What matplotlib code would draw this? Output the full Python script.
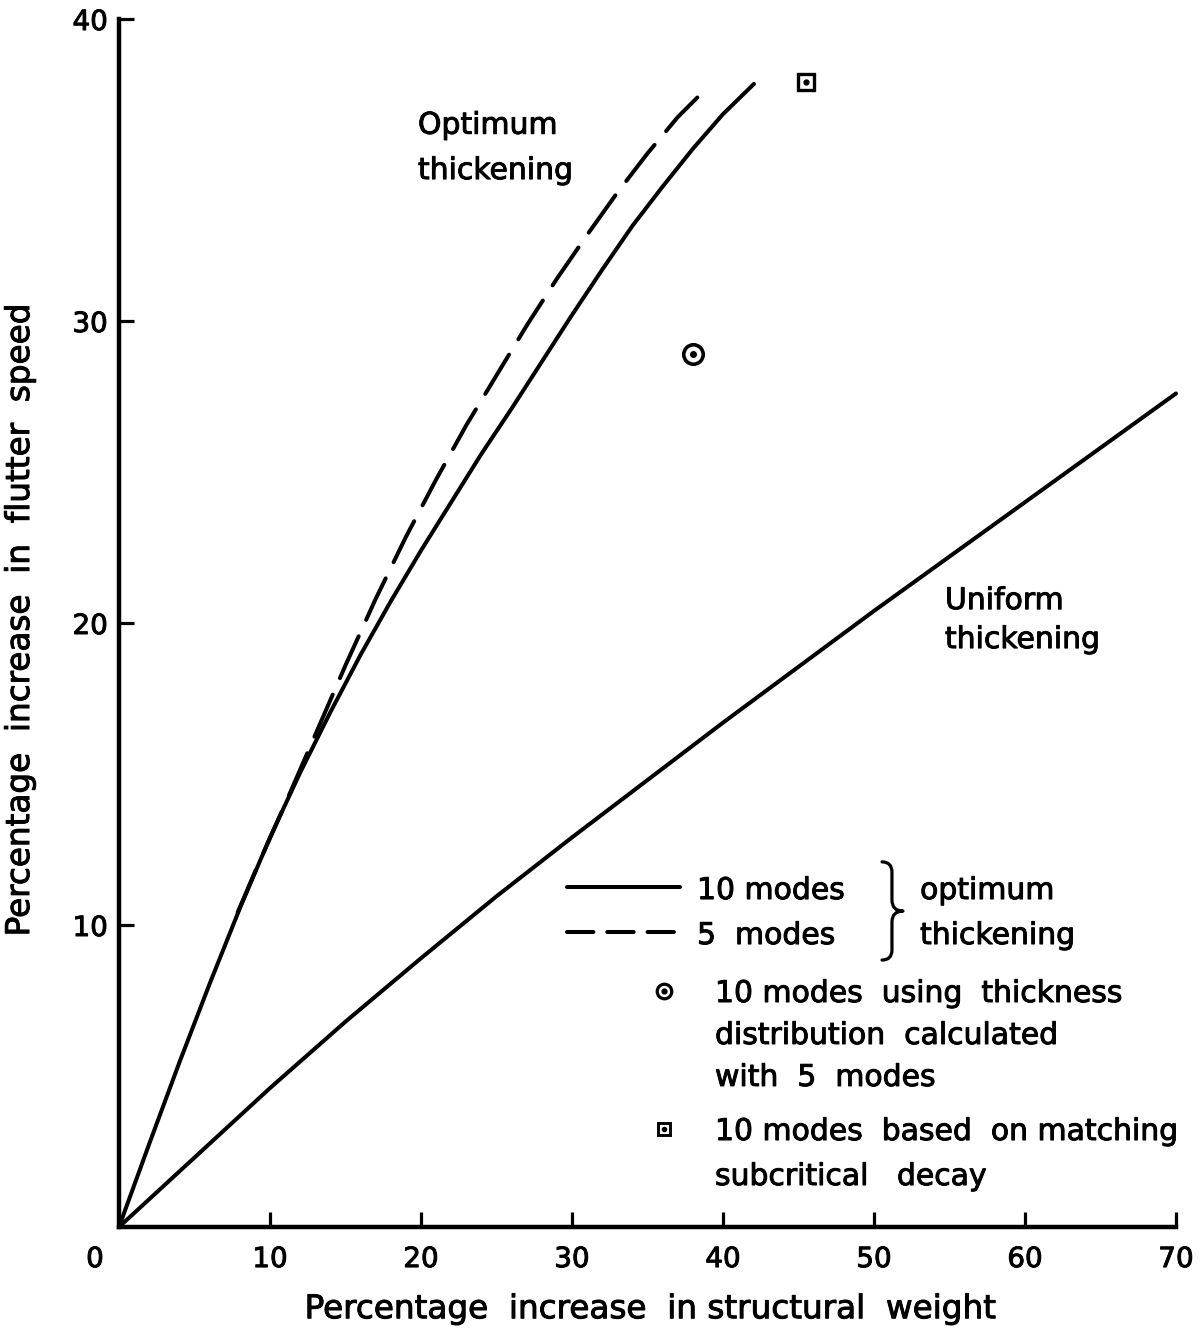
import matplotlib
matplotlib.use("Agg")
import matplotlib.pyplot as plt
import matplotlib.patheffects as pe
from matplotlib.path import Path
from matplotlib.patches import PathPatch
from matplotlib.transforms import ScaledTranslation

plt.rcParams['font.family'] = ['DejaVu Sans']
plt.rcParams['lines.scale_dashes'] = False

# ---------------- data ----------------
# Optimum thickening, 10 modes (solid)
x_opt10 = [0, 2, 4, 6, 8, 10, 12, 14, 16, 18, 20, 22, 24, 26, 28, 30, 32, 34, 36, 38, 40, 42.05]
y_opt10 = [0, 2.75, 5.45, 8.05, 10.55, 12.9, 15.05, 17.05, 18.95, 20.72, 22.4, 24.0, 25.6,
           27.1, 28.65, 30.2, 31.7, 33.15, 34.45, 35.7, 36.85, 37.85]
# Optimum thickening, 5 modes (dashed)
x_opt5 = [7.5, 9, 11, 13, 15, 17, 19, 21, 23, 25, 27, 29, 31, 33, 35, 37, 38.3]
y_opt5 = [10.0, 11.75, 14.0, 16.3, 18.6, 20.8, 22.85, 24.75, 26.55, 28.2, 29.85, 31.4,
          32.85, 34.25, 35.55, 36.75, 37.4]
# Uniform thickening
x_uni = [0, 5, 10, 15, 20, 25, 30, 35, 40, 45, 50, 55, 60, 65, 70]
y_uni = [0, 2.3, 4.6, 6.8, 8.9, 10.95, 12.9, 14.8, 16.7, 18.55, 20.4, 22.2, 24.0, 25.8, 27.6]
# Single points
circle_pt = (38.0, 28.9)   # 10 modes using thickness distribution calculated with 5 modes
square_pt = (45.5, 37.9)   # 10 modes based on matching subcritical decay

x_ticks = [0, 10, 20, 30, 40, 50, 60, 70]
x_ticklabels = ['0', '10', '20', '30', '40', '50', '60', '70']
y_ticks = [10, 20, 30, 40]
y_ticklabels = ['10', '20', '30', '40']

# ---------------- figure ----------------
W, H = 1203, 1337
fig = plt.figure(figsize=(W / 100, H / 100), dpi=100)
ax = fig.add_axes([119 / W, 1 - 1227 / H, 1057 / W, 1208 / H])
ax.set_xlim(0, 70)
ax.set_ylim(0, 40)

LW = 2.9
ax.plot(x_opt10, y_opt10, color='black', lw=LW, solid_capstyle='round',
        solid_joinstyle='round', clip_on=False)
# dashed curve drawn from its upper end so the pattern starts with a full dash there
ax.plot(x_opt5[::-1], y_opt5[::-1], color='black', lw=LW, dashes=(33, 13), dash_capstyle='round',
        dash_joinstyle='round', clip_on=False)
ax.plot(x_uni, y_uni, color='black', lw=LW, solid_capstyle='round',
        solid_joinstyle='round', clip_on=False)

# circle-with-dot point
ax.plot([circle_pt[0]], [circle_pt[1]], marker='o', ms=14, mfc='white', mec='black', mew=2.6, ls='none')
ax.plot([circle_pt[0]], [circle_pt[1]], marker='o', ms=4, color='black', ls='none')
# square-with-dot point
ax.plot([square_pt[0]], [square_pt[1]], marker='s', ms=11, mfc='white', mec='black', mew=2.4,
        ls='none', clip_on=False)
ax.plot([square_pt[0]], [square_pt[1]], marker='o', ms=3.5, color='black', ls='none', clip_on=False)

# ---------------- axes styling ----------------
for s in ['top', 'right']:
    ax.spines[s].set_visible(False)
for s in ['left', 'bottom']:
    ax.spines[s].set_linewidth(3.2)

ax.set_xticks(x_ticks)
ax.set_xticklabels(x_ticklabels)
ax.set_yticks(y_ticks)
ax.set_yticklabels(y_ticklabels)
ax.tick_params(axis='both', direction='in', length=11, width=2.3, labelsize=20)
ax.tick_params(axis='x', pad=13)
ax.tick_params(axis='y', pad=8)
# the '0' label sits left of the origin
lab0 = ax.get_xticklabels()[0]
lab0.set_transform(lab0.get_transform() + ScaledTranslation(-0.24, 0, fig.dpi_scale_trans))

ax.set_xlabel('Percentage  increase  in structural  weight', fontsize=23.5)
ax.xaxis.set_label_coords(0.502, -0.054)
ax.set_ylabel('Percentage  increase  in  flutter  speed', fontsize=23.5)
ax.yaxis.set_label_coords(-0.0785, 0.502)

# ---------------- annotations ----------------
FS = 21.5
ax.text(19.8, 36.2, 'Optimum', fontsize=FS, va='baseline', ha='left')
ax.text(19.8, 34.7, 'thickening', fontsize=FS, va='baseline', ha='left')
ax.text(54.7, 20.46, 'Uniform', fontsize=FS, va='baseline', ha='left')
ax.text(54.7, 19.17, 'thickening', fontsize=FS, va='baseline', ha='left')

# legend block
ax.plot([29.67, 37.15], [11.26, 11.26], color='black', lw=LW, solid_capstyle='round')
ax.plot([29.67, 37.15], [9.77, 9.77], color='black', lw=LW, dashes=(19, 10), dash_capstyle='round')
ax.text(38.28, 10.86, '10 modes', fontsize=FS, va='baseline')
ax.text(38.28, 9.37, '5  modes', fontsize=FS, va='baseline')
ax.text(53.05, 10.86, 'optimum', fontsize=FS, va='baseline')
ax.text(53.05, 9.37, 'thickening', fontsize=FS, va='baseline')

verts = [(50.53, 12.09), (51.19, 12.09), (51.19, 11.75), (51.19, 10.83),
         (51.19, 10.46), (51.92, 10.46), (51.19, 10.46), (51.19, 10.10),
         (51.19, 9.17), (51.19, 8.84), (50.53, 8.84)]
codes = [Path.MOVETO, Path.CURVE3, Path.CURVE3, Path.LINETO,
         Path.CURVE3, Path.CURVE3, Path.CURVE3, Path.CURVE3,
         Path.LINETO, Path.CURVE3, Path.CURVE3]
ax.add_patch(PathPatch(Path(verts, codes), fill=False, lw=2.3, capstyle='round', joinstyle='round'))

ax.plot([36.09], [7.81], marker='o', ms=10.5, mfc='white', mec='black', mew=2.3, ls='none')
ax.plot([36.09], [7.81], marker='o', ms=3.5, color='black', ls='none')
ax.text(39.47, 7.45, '10 modes  using  thickness', fontsize=FS, va='baseline')
ax.text(39.47, 6.06, 'distribution  calculated', fontsize=FS, va='baseline')
ax.text(39.47, 4.67, 'with  5  modes', fontsize=FS, va='baseline')

ax.plot([36.09], [3.25], marker='s', ms=9, mfc='white', mec='black', mew=2.1, ls='none')
ax.plot([36.09], [3.25], marker='o', ms=3, color='black', ls='none')
ax.text(39.47, 2.88, '10 modes  based  on matching', fontsize=FS, va='baseline')
ax.text(39.47, 1.39, 'subcritical   decay', fontsize=FS, va='baseline')

# slightly heavier lettering, like the original drawing
for t in ax.texts + ax.get_xticklabels() + ax.get_yticklabels() + [ax.xaxis.label, ax.yaxis.label]:
    t.set_path_effects([pe.withStroke(linewidth=0.7, foreground='black')])

fig.savefig('out.png', dpi=100)
